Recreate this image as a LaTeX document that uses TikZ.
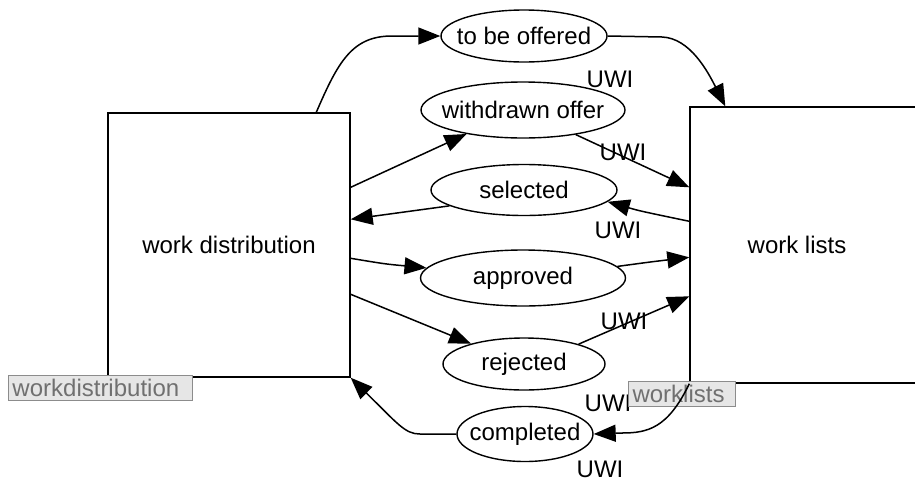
\documentclass[tikz,border=0pt]{standalone}
\usepackage{fontspec}
\setmainfont{Liberation Sans}
\usetikzlibrary{shapes.geometric,arrows.meta,calc}
\definecolor{tagfill}{HTML}{E6E6E6}
\definecolor{tagline}{HTML}{8C8C8C}
\definecolor{tagtext}{HTML}{707070}
% zero-width text so the ellipse size is set only by minimum width/height
\newcommand\stlabel[1]{\makebox[0pt]{#1}}
\begin{document}
\begin{tikzpicture}[x=1pt,y=-1pt,
  every node/.style={font=\fontsize{24}{28}\selectfont},
  place/.style={draw,rectangle,line width=1.4pt,inner sep=0pt},
  state/.style={draw,ellipse,line width=1.4pt,inner sep=0pt},
  tag/.style={draw=tagline,fill=tagfill,text=tagtext,line width=1pt,
    inner xsep=4pt,inner ysep=0pt,align=left,minimum height=25pt,anchor=north west},
  flow/.style={line width=1.5pt,-{Triangle[length=22pt,width=17pt]}},
]
\useasboundingbox (0,0) rectangle (915,483);
\clip (0,0) rectangle (915,483);

% the two places
\node[place,minimum width=242pt,minimum height=264pt] (wd) at (229,245) {work distribution};
\node[place,minimum width=230pt,minimum height=276pt] (wl) at (805,245) {};
\node (wltxt) at (797,245) {work lists};

% transitions
\node[state,minimum width=166pt,minimum height=52pt] (off) at (524,36) {\stlabel{to be offered}};
\node[state,minimum width=204pt,minimum height=56pt] (wdo) at (523,110) {\stlabel{withdrawn offer}};
\node[state,minimum width=186pt,minimum height=51pt] (sel) at (524,190) {\stlabel{selected}};
\node[state,minimum width=205pt,minimum height=56pt] (app) at (523,278) {\stlabel{approved}};
\node[state,minimum width=162pt,minimum height=52pt] (rej) at (524,364) {\stlabel{rejected}};
\node[state,minimum width=136pt,minimum height=55pt] (com) at (525,434) {\stlabel{completed}};

% arc inscriptions
\node (u1) at (610,79) {UWI};
\node (u2) at (623,152) {UWI};
\node (u3) at (618,230) {UWI};
\node (u4) at (624,321) {UWI};
\node (u5) at (608,403) {UWI};
\node (u6) at (600,469) {UWI};

% place name tags
\node[tag,text width=176pt] (wdtag) at (8,375) {workdistribution};
\node[tag,text width=99pt] (wltag) at (628,381) {worklists};

% arcs
\draw[flow] ($(wd.north west)+(209,0)$) .. controls (338,62) and (352,36) .. (392,36) -- (off.west);
\draw[flow] (off.east) -- (662,37) .. controls (690,38) and (708,72) .. ($(wl.north west)+(36,0)$);
\draw[flow] ($(wd.north east)+(0,75)$) -- (wdo.203);
\draw[flow] (wdo.-25) -- ($(wl.north west)+(0,81)$);
\draw[flow] ($(wl.north west)+(0,115)$) .. controls (640,211) .. (sel.-8);
\draw[flow] (sel.-168) -- ($(wd.north east)+(0,107)$);
\draw[flow] ($(wd.north east)+(0,146)$) .. controls (385,264) .. (app.174);
\draw[flow] (app.7) .. controls (650,262) .. ($(wl.north west)+(0,151)$);
\draw[flow] ($(wd.north east)+(0,182)$) -- (rej.159);
\draw[flow] (rej.20) -- ($(wl.north west)+(0,190)$);
\draw[flow] (wl.south west) .. controls (668,428) and (648,433) .. (622,433) -- (com.east);
\draw[flow] (com.west) -- (420,434) .. controls (405,434) and (398,424) .. (wd.south east);
\end{tikzpicture}
\end{document}
